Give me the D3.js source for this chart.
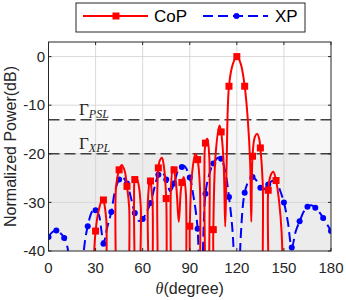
<!DOCTYPE html>
<html><head><meta charset="utf-8">
<script src="https://cdn.jsdelivr.net/npm/d3@7"></script>
<style>body{margin:0;background:#fff}svg{display:block}</style>
</head><body><div id="c"></div>
<script>
// ---------- data ----------
const xTicks = [0, 30, 60, 90, 120, 150, 180];
const yTicks = [0, -10, -20, -30, -40];
const psl = -13, xpl = -20;

const copAngles = [27.5,30,32.3,34.5,35,36.8,38.6, 40.8,43,45,46.7,48.5,50,51.4,52.6,
  53.6,54.5,55,56,57.5,58.8,60, 62,63.3,64.6,65,66.3,67.6,
  68.4,69.3,70,71,72.3,73.6,75,76.5, 77,78,79.3,80,81.5,83,84.2,85,86.2,87.5,89,
  89.6,90,91.5,93.6,95,96.5,97.9, 98.6,99.3,100,101.2,102.5,103.6,
  104.3,105,106.5,109,110,111.6,112.6, 113.5,115,117.5,120,122.5,125,127,128.5,129.2,
  130,131.5,133,134.3,135,136.5,138, 139,140,141.5,143.2,145,147,148.5,150];
const copValues = [-55,-35.9,-31.2,-29.2,-29.5,-33.5,-55, -55,-27,-23.3,-22.3,-23.5,-26.7,-31,-55,
  -55,-30,-25.3,-24.9,-26.5,-31,-55, -55,-30,-25.1,-25.6,-30,-55,
  -55,-28,-22.9,-21.3,-20.8,-22.8,-29.2,-55, -55,-27,-22.7,-23.3,-27,-34,-28,-25.9,-24.8,-28,-55,
  -55,-34.9,-24,-20.0,-21.2,-27,-55, -55,-25,-17.8,-16.9,-21,-55,
  -55,-35.6,-20,-14.2,-15.5,-22,-35, -22,-6.1,-1.5,0,-1.5,-6.1,-13,-22,-34,
  -20.5,-16.5,-15.9,-17,-18.8,-26,-55, -55,-27.5,-24.5,-23.7,-25.5,-30,-36,-55];
const copMarkAngles = [30,35,45,50,55,65,70,75,80,85,90,95,100,105,110,115,120,125,130,135,140,145];
const copMarkValues = [-35.9,-29.5,-23.3,-26.7,-25.3,-25.6,-22.9,-29.2,-23.3,-25.9,-34.9,-21.2,-17.8,-35.6,-15.5,-6.1,0,-6.1,-20.5,-18.8,-27.5,-25.5];

// XP line
const xpAngles = [0,2.5,5,7.5,10,12.5,14,21,22.5,25,28,30,32,33.8,35,37.5,40,42.5,45,47.3,50,52.5,55,57.5,60,62.5,65,67.5,70,72.3,75,77.6,80,82.5,85,86.5,90,92.5,95,96.9,100,102.5,105,108,110,112.5,115,117.5,120,122.5,125,127.5,130,132.5,135,137.5,140,142.5,145,147.5,150,152.5,155,157.5,160,162.5,165,167.5,170,172.5,175,177.5,180];
const xpValues = [-37.1,-36.1,-35.8,-36.3,-37.3,-40,-55,-55,-40,-34.9,-31.8,-31.6,-32.5,-36,-38.5,-35,-32.0,-27.5,-25.3,-24.9,-26.1,-29,-32.2,-33.8,-33.4,-32,-30.1,-27,-24.3,-23.7,-25.3,-27.7,-26.1,-23.5,-22.7,-22.5,-24.9,-29,-35.4,-60,-28.2,-24.2,-22.0,-20.8,-21.0,-23.5,-28.9,-37,-65,-37,-28.0,-25.6,-24.8,-25.5,-27.0,-27.3,-26.3,-25.6,-25.6,-27.5,-30.0,-34,-39.3,-36,-33.9,-32,-30.9,-30.6,-31.1,-32,-33.2,-34.5,-35.9];
const xpMarkAngles = [0,5,10,25,30,35,40,45,50,55,60,65,70,75,80,85,90,95,100,105,110,115,125,130,135,140,145,150,155,160,165,170,175,180];
const xpMarkValues = [-37.1,-35.8,-37.3,-34.9,-31.6,-38.5,-32.0,-25.3,-26.1,-32.2,-33.4,-30.1,-24.3,-25.3,-26.1,-22.7,-24.9,-35.4,-28.2,-22.0,-21.0,-28.9,-28.0,-24.8,-27.0,-26.3,-25.6,-30.0,-39.3,-33.9,-30.9,-31.1,-33.2,-35.9];

// ---------- drawing ----------
const W = 346, H = 300;
const L = 48.5, R = 331, T = 42, B = 251;
const svg = d3.select('#c').append('svg').attr('width', W).attr('height', H);
const x = d3.scaleLinear().domain([0, 180]).range([L, R]);
const y = d3.scaleLinear().domain([-40, 3]).range([B, T]);
const font = 'Liberation Sans, Arial, Helvetica, sans-serif';
const axCol = '#262626';

svg.append('defs').append('clipPath').attr('id', 'clip')
  .append('rect').attr('x', L).attr('y', T).attr('width', R - L).attr('height', B - T);

// shaded bands
svg.append('rect').attr('x', L).attr('width', R - L).attr('y', y(psl)).attr('height', y(xpl) - y(psl)).attr('fill', '#f7f7f7');
svg.append('rect').attr('x', L).attr('width', R - L).attr('y', y(xpl)).attr('height', y(-40) - y(xpl)).attr('fill', '#ececec');

// grid
const g = svg.append('g');
g.selectAll('.gx').data(xTicks.slice(1, -1)).join('line')
  .attr('x1', d => x(d)).attr('x2', d => x(d)).attr('y1', T).attr('y2', B)
  .attr('stroke', '#d0d0d0').attr('stroke-width', 0.8);
g.selectAll('.gy').data(yTicks.slice(0, -1)).join('line')
  .attr('y1', d => y(d)).attr('y2', d => y(d)).attr('x1', L).attr('x2', R)
  .attr('stroke', '#d0d0d0').attr('stroke-width', 0.8);

// threshold lines
[psl, xpl].forEach(v => svg.append('line').attr('x1', L).attr('x2', R).attr('y1', y(v)).attr('y2', y(v))
  .attr('stroke', '#404040').attr('stroke-width', 1.5).attr('stroke-dasharray', '11,5'));

// Gamma labels
function gam(px, py, sub) {
  const t = svg.append('text').attr('x', px).attr('y', py).attr('fill', axCol)
    .attr('font-family', 'Liberation Serif, Times New Roman, serif').attr('font-size', 17);
  t.append('tspan').text('Γ');
  t.append('tspan').attr('dy', 3).attr('font-size', 12).attr('font-style', 'italic').text(sub);
}
gam(79, 115, 'PSL');
gam(79, 149, 'XPL');

const plot = svg.append('g').attr('clip-path', 'url(#clip)');
const line = d3.line().x(d => x(d[0])).y(d => y(d[1])).curve(d3.curveCatmullRom.alpha(0.5));

// XP
plot.append('path').datum(d3.zip(xpAngles, xpValues)).attr('d', line)
  .attr('fill', 'none').attr('stroke', '#0000ff').attr('stroke-width', 2).attr('stroke-dasharray', '10,5');
plot.selectAll('.xpm').data(d3.zip(xpMarkAngles, xpMarkValues)).join('circle')
  .attr('cx', d => x(d[0])).attr('cy', d => y(d[1])).attr('r', 3).attr('fill', '#0000ff');

// CoP
plot.append('path').datum(d3.zip(copAngles, copValues)).attr('d', line)
  .attr('fill', 'none').attr('stroke', '#ff0000').attr('stroke-width', 2);
plot.selectAll('.cpm').data(d3.zip(copMarkAngles, copMarkValues)).join('rect')
  .attr('x', d => x(d[0]) - 3.5).attr('y', d => y(d[1]) - 3.5).attr('width', 7).attr('height', 7).attr('fill', '#ff0000');

// axes box with inner ticks
svg.append('rect').attr('x', L).attr('y', T).attr('width', R - L).attr('height', B - T)
  .attr('fill', 'none').attr('stroke', axCol).attr('stroke-width', 1);
const tk = svg.append('g').attr('stroke', axCol).attr('stroke-width', 1);
xTicks.forEach(v => {
  tk.append('line').attr('x1', x(v)).attr('x2', x(v)).attr('y1', B).attr('y2', B - 3);
  tk.append('line').attr('x1', x(v)).attr('x2', x(v)).attr('y1', T).attr('y2', T + 3);
});
yTicks.forEach(v => {
  tk.append('line').attr('y1', y(v)).attr('y2', y(v)).attr('x1', L).attr('x2', L + 3);
  tk.append('line').attr('y1', y(v)).attr('y2', y(v)).attr('x1', R).attr('x2', R - 3);
});

// tick labels
svg.selectAll('.xl').data(xTicks).join('text')
  .attr('x', d => x(d)).attr('y', 273).attr('text-anchor', 'middle')
  .attr('font-family', font).attr('font-size', 15).attr('fill', axCol).text(d => d);
svg.selectAll('.yl').data(yTicks).join('text')
  .attr('x', 45).attr('y', d => y(d) + 5.3).attr('text-anchor', 'end')
  .attr('font-family', font).attr('font-size', 15).attr('fill', axCol).text(d => d);

// axis titles
const xt = svg.append('text').attr('x', (L + R) / 2).attr('y', 294).attr('text-anchor', 'middle')
  .attr('font-family', font).attr('font-size', 16).attr('fill', axCol);
xt.append('tspan').attr('font-family', 'Liberation Serif, Times New Roman, serif').attr('font-style', 'italic').text('θ');
xt.append('tspan').text('(degree)');
svg.append('text').attr('transform', `translate(16,${(T + B) / 2}) rotate(-90)`).attr('text-anchor', 'middle')
  .attr('font-family', font).attr('font-size', 16).attr('fill', axCol).text('Normalized Power(dB)');

// legend
const lg = svg.append('g');
lg.append('rect').attr('x', 76).attr('y', 3).attr('width', 229).attr('height', 29)
  .attr('fill', '#fff').attr('stroke', axCol).attr('stroke-width', 1);
lg.append('line').attr('x1', 83).attr('x2', 148).attr('y1', 16).attr('y2', 16).attr('stroke', '#ff0000').attr('stroke-width', 2);
lg.append('rect').attr('x', 116 - 3.5).attr('y', 16 - 3.5).attr('width', 7).attr('height', 7).attr('fill', '#ff0000');
lg.append('text').attr('x', 154).attr('y', 22).attr('font-family', font).attr('font-size', 17).attr('fill', '#000').text('CoP');
lg.append('line').attr('x1', 203).attr('x2', 268).attr('y1', 16).attr('y2', 16).attr('stroke', '#0000ff').attr('stroke-width', 2).attr('stroke-dasharray', '10,5');
lg.append('circle').attr('cx', 236.5).attr('cy', 16).attr('r', 3).attr('fill', '#0000ff');
lg.append('text').attr('x', 275).attr('y', 22).attr('font-family', font).attr('font-size', 17).attr('fill', '#000').text('XP');
</script></body></html>
